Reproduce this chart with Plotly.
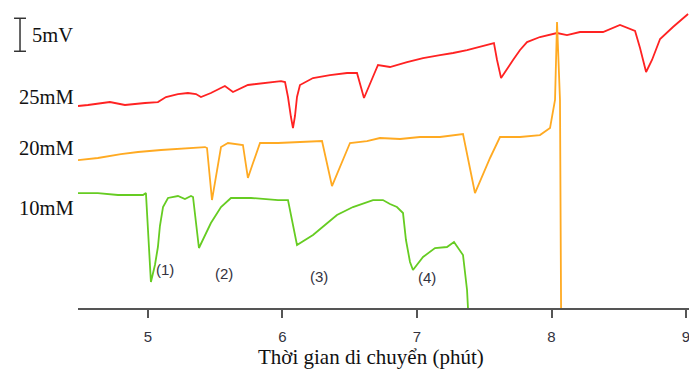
import plotly.graph_objects as go

# Migration time (min) and signal (mV, offset per trace)
t_25 = [4.480, 4.554, 4.717, 4.829, 4.978, 5.074, 5.134, 5.223, 5.297, 5.357, 5.394, 5.468,
        5.572, 5.632, 5.743, 5.870, 5.989, 6.019, 6.041, 6.063, 6.078, 6.093, 6.108, 6.130,
        6.167, 6.227, 6.353, 6.480, 6.554, 6.606, 6.710, 6.799, 6.926, 7.045, 7.171, 7.268,
        7.372, 7.468, 7.572, 7.595, 7.625, 7.714, 7.766, 7.818, 7.914, 8.041, 8.115, 8.212,
        8.383, 8.509, 8.621, 8.658, 8.703, 8.747, 8.807, 8.903, 9.015]
v_25 = [30.61, 30.76, 31.21, 30.76, 31.06, 31.21, 31.97, 32.42, 32.58, 32.42, 31.97, 32.58,
        33.64, 32.73, 33.79, 34.09, 34.39, 34.24, 31.97, 28.94, 27.27, 29.09, 31.97, 33.79,
        34.24, 34.85, 35.30, 35.61, 35.61, 31.82, 36.82, 36.52, 37.27, 37.88, 38.33, 38.64,
        39.09, 39.55, 40.15, 37.58, 34.85, 37.58, 39.09, 40.30, 41.06, 41.67, 41.36, 41.82,
        41.82, 42.88, 41.97, 39.39, 35.76, 37.58, 40.76, 42.58, 44.55]

t_20 = [4.480, 4.628, 4.799, 4.926, 5.097, 5.297, 5.424, 5.439, 5.476, 5.543, 5.595, 5.706,
        5.743, 5.781, 5.833, 5.967, 6.130, 6.294, 6.368, 6.502, 6.628, 6.725, 6.874, 7.022,
        7.171, 7.268, 7.342, 7.431, 7.543, 7.617, 7.766, 7.914, 7.989, 8.026, 8.041, 8.063, 8.071]
v_20 = [22.42, 22.73, 23.33, 23.64, 23.94, 24.24, 24.39, 24.24, 16.36, 24.39, 25.00, 24.70,
        19.70, 21.97, 25.00, 25.00, 25.15, 25.30, 18.48, 25.00, 25.30, 25.76, 25.61, 25.91,
        25.91, 26.21, 26.36, 17.42, 22.73, 25.91, 25.91, 26.21, 27.27, 31.52, 43.33, 31.52, 0.0]

t_10 = [4.480, 4.628, 4.777, 4.963, 4.985, 5.022, 5.052, 5.074, 5.089, 5.112, 5.149, 5.223,
        5.275, 5.320, 5.335, 5.379, 5.468, 5.543, 5.617, 5.766, 5.967, 6.041, 6.108, 6.167,
        6.227, 6.316, 6.405, 6.524, 6.613, 6.673, 6.747, 6.799, 6.851, 6.896, 6.918, 6.948,
        6.970, 7.045, 7.134, 7.223, 7.275, 7.342, 7.372, 7.379]
v_10 = [17.42, 17.42, 17.12, 17.12, 17.42, 3.94, 6.52, 9.24, 12.42, 15.30, 16.67, 16.97,
        16.52, 16.97, 16.82, 9.09, 12.88, 15.30, 16.67, 16.67, 16.36, 16.36, 9.55, 10.30,
        11.06, 12.58, 14.09, 15.30, 15.91, 16.36, 16.36, 15.76, 15.30, 14.39, 10.30, 6.97,
        5.76, 7.73, 9.09, 9.24, 10.00, 8.03, 2.73, 0.0]

peak_labels = ["(1)", "(2)", "(3)", "(4)"]
peak_t = [5.126, 5.565, 6.271, 7.074]
peak_v = [5.76, 5.30, 4.70, 4.55]

series_names = ["25mM", "20mM", "10mM"]
series_label_v = [31.97, 24.24, 15.15]
x_ticks = [5, 6, 7, 8, 9]
x_title = "Thời gian di chuyển (phút)"

fig = go.Figure()
fig.add_trace(go.Scatter(x=t_25, y=v_25, mode="lines", line=dict(color="#FF2222", width=1.8), name="25mM"))
fig.add_trace(go.Scatter(x=t_20, y=v_20, mode="lines", line=dict(color="#FFAA22", width=1.8), name="20mM"))
fig.add_trace(go.Scatter(x=t_10, y=v_10, mode="lines", line=dict(color="#66CC22", width=1.8), name="10mM"))

for lab, x, y in zip(peak_labels, peak_t, peak_v):
    fig.add_annotation(x=x, y=y, text=lab, showarrow=False, xref="x", yref="y",
                       font=dict(family="Liberation Sans, Arial", size=15, color="#333340"))

for name, y in zip(series_names, series_label_v):
    fig.add_annotation(x=-0.003, y=y, xref="paper", yref="y", text=name, showarrow=False,
                       xanchor="right", font=dict(family="Liberation Serif, Times New Roman", size=20.5, color="#111"))

# scale bar 5 mV
bar_top, bar_bot = 43.9, 38.9
fig.add_shape(type="line", xref="paper", yref="y", x0=-0.0949, x1=-0.0949, y0=bar_bot, y1=bar_top,
              line=dict(color="#333", width=1.5))
fig.add_shape(type="line", xref="paper", yref="y", x0=-0.1047, x1=-0.0851, y0=bar_top, y1=bar_top,
              line=dict(color="#333", width=1.5))
fig.add_shape(type="line", xref="paper", yref="y", x0=-0.1047, x1=-0.0851, y0=bar_bot, y1=bar_bot,
              line=dict(color="#333", width=1.5))
fig.add_annotation(x=-0.079, y=41.36, xref="paper", yref="y", text="5mV", showarrow=False,
                   xanchor="left", font=dict(family="Liberation Serif, Times New Roman", size=20.5, color="#111"))

# axis title
fig.add_annotation(x=0.4795, y=-0.159, xref="paper", yref="paper", text=x_title, showarrow=False,
                   xanchor="center", yanchor="middle",
                   font=dict(family="Liberation Serif, Times New Roman", size=21, color="#111"))

fig.update_layout(
    width=689, height=376,
    margin=dict(l=78, r=0, t=0, b=68),
    plot_bgcolor="white", paper_bgcolor="white",
    showlegend=False,
    xaxis=dict(range=[4.48, 9.022], tickvals=x_ticks, ticks="outside", ticklen=8, tickwidth=2,
               tickcolor="#555", showline=True, linecolor="#555", linewidth=2, showgrid=False,
               zeroline=False, automargin=False, ticklabeloverflow="allow", ticklabelstandoff=6,
               tickfont=dict(family="Liberation Sans, Arial", size=15, color="#333340")),
    yaxis=dict(visible=False, range=[0, 46.67], automargin=False),
)

fig.write_html("out.html", config={"displayModeBar": False},
               post_script="document.body.style.margin='0';document.body.style.padding='0';")
